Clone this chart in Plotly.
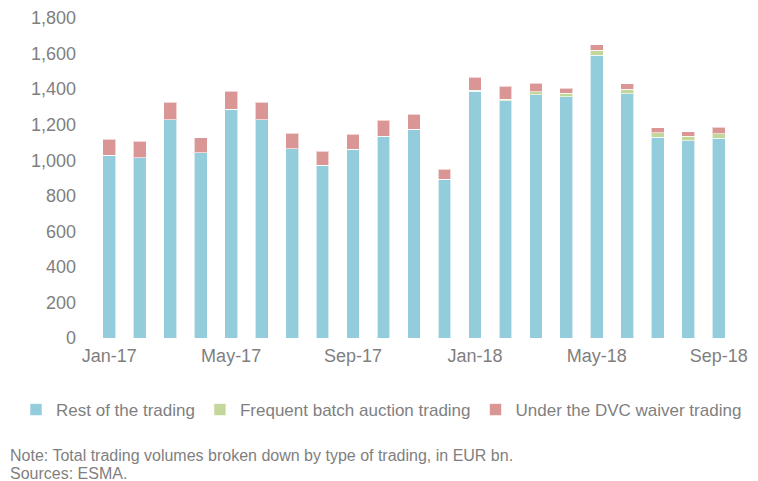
import plotly.graph_objects as go

months = ["Jan-17", "Feb-17", "Mar-17", "Apr-17", "May-17", "Jun-17", "Jul-17",
          "Aug-17", "Sep-17", "Oct-17", "Nov-17", "Dec-17", "Jan-18", "Feb-18",
          "Mar-18", "Apr-18", "May-18", "Jun-18", "Jul-18", "Aug-18", "Sep-18"]

rest_trading = [1027, 1014, 1228, 1042, 1286, 1228, 1065, 971, 1061, 1136, 1174,
                893, 1387, 1335, 1369, 1358, 1590, 1374, 1129, 1110, 1123]
fba_trading = [0, 0, 0, 0, 0, 0, 0, 0, 0, 0, 0,
               0, 8, 9, 17, 20, 30, 26, 26, 26, 25]
dvc_trading = [92, 92, 99, 85, 103, 98, 88, 79, 86, 90, 86,
               56, 71, 72, 47, 28, 30, 29, 28, 25, 37]

tick_labels = ["Jan-17", "May-17", "Sep-17", "Jan-18", "May-18", "Sep-18"]
y_ticks = [0, 200, 400, 600, 800, 1000, 1200, 1400, 1600, 1800]

series = [
    ("Rest of the trading", rest_trading, "#93CDDB"),
    ("Frequent batch auction trading", fba_trading, "#C4D79B"),
    ("Under the DVC waiver trading", dvc_trading, "#D99694"),
]

FONT = "Liberation Sans, Arial, sans-serif"
GREY = "#7f7f7f"

L, R, T, B = 94, 24, 18, 143
W, H = 758, 481
PW, PH = W - L - R, H - T - B


def px_x(px):
    return (px - L) / PW


def px_y(py):
    return (H - B - py) / PH


fig = go.Figure()
for name, vals, col in series:
    fig.add_trace(go.Bar(
        x=months, y=vals, name=name,
        marker=dict(color=col, line=dict(color="rgba(255,255,255,0.6)", width=1)),
    ))

fig.update_layout(
    barmode="stack",
    bargap=0.58,
    width=W, height=H,
    margin=dict(l=L, r=R, t=T, b=B),
    paper_bgcolor="white", plot_bgcolor="white",
    font=dict(family=FONT, size=18, color=GREY),
    showlegend=True,
    legend=dict(orientation="h", x=px_x(16), xanchor="left", y=px_y(392), yanchor="top",
                font=dict(size=17, color=GREY), traceorder="normal",
                itemwidth=30, tracegroupgap=0, borderwidth=0,
                bgcolor="rgba(0,0,0,0)"),
    xaxis=dict(type="category", tickmode="array", tickvals=tick_labels,
               ticktext=tick_labels, showgrid=False, showline=False,
               ticks="", automargin=False, ticklabelstandoff=5,
               tickfont=dict(size=18, color=GREY)),
    yaxis=dict(range=[0, 1800], tickvals=y_ticks, tickformat=",d",
               showgrid=False, showline=False, zeroline=False, ticks="",
               automargin=False, ticklabelstandoff=17,
               tickfont=dict(size=18, color=GREY)),
    annotations=[
        dict(text="Note: Total trading volumes broken down by type of trading, in EUR bn.",
             xref="paper", yref="paper", x=px_x(8), y=px_y(455), xanchor="left", yanchor="middle",
             showarrow=False, align="left", font=dict(size=16, color=GREY)),
        dict(text="Sources: ESMA.",
             xref="paper", yref="paper", x=px_x(8), y=px_y(473), xanchor="left", yanchor="middle",
             showarrow=False, align="left", font=dict(size=16, color=GREY)),
    ],
)

fig.write_html("out.html", config={"displayModeBar": False},
               post_script="document.body.style.margin='0px';document.body.style.overflow='hidden';")
